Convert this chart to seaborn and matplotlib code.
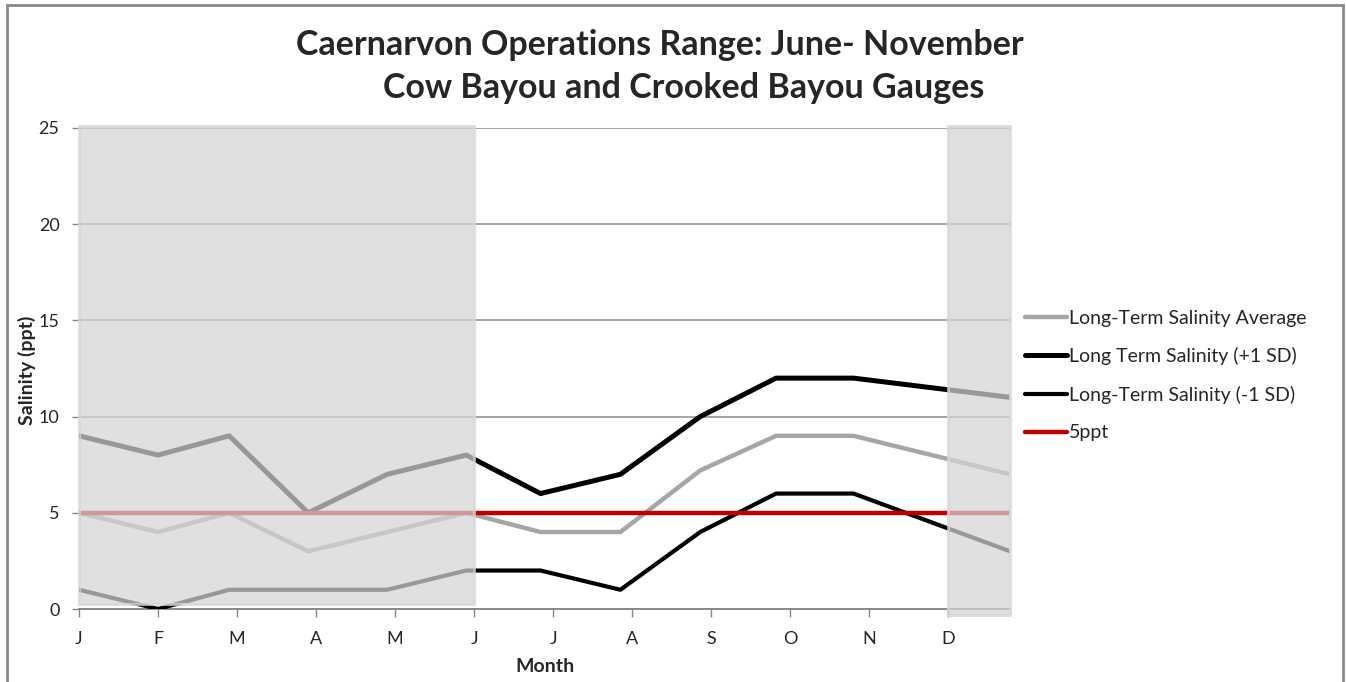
#-----------------------------------------------------------------------------#
'''Modules'''
import numpy as np
import pandas as pd
import matplotlib
matplotlib.use("Agg")
import matplotlib.pyplot as plt
from matplotlib.patches import Rectangle
import seaborn as sns
#-----------------------------------------------------------------------------#
'''Data read off the chart'''
month_labels = ["J", "F", "M", "A", "M", "J", "J", "A", "S", "O", "N", "D"]
# position of each data point, in months from January
month_pos = [0, 1, 1.9, 2.9, 3.9, 4.9, 5.84, 6.85, 7.86, 8.82, 9.8, 11.78]
sal_avg = [5, 4, 5, 3, 4, 5, 4, 4, 7.2, 9, 9, 7]
sal_plus = [9, 8, 9, 5, 7, 8, 6, 7, 10, 12, 12, 11]
sal_minus = [1, 0, 1, 1, 1, 2, 2, 1, 4, 6, 6, 3]
five_ppt = [5, 5, 5, 5, 5, 5, 5, 5, 5, 5, 5, 5]
y_ticks = [0, 5, 10, 15, 20, 25]
# months outside the operations range (shaded)
off_ranges = [(0, 5), (11, 11.78)]
#-----------------------------------------------------------------------------#
sns.set_style("white")
Font = ["Lato", "DejaVu Sans"]
plt.rcParams["font.family"] = Font

fig = plt.figure(figsize=(13.46, 6.82), dpi=100)
ax = fig.add_axes([79 / 1346, 1 - 609 / 682, (1010 - 79) / 1346, (609 - 128) / 682])

df = pd.DataFrame({"month": month_pos, "avg": sal_avg, "plus": sal_plus,
                   "minus": sal_minus, "ppt": five_ppt})

sns.lineplot(data=df, x="month", y="avg", color="#a6a6a6", lw=3.2,
             label="Long-Term Salinity Average", ax=ax, zorder=3)
sns.lineplot(data=df, x="month", y="plus", color="black", lw=3.6,
             label="Long Term Salinity (+1 SD)", ax=ax, zorder=3)
sns.lineplot(data=df, x="month", y="minus", color="black", lw=3.0,
             label="Long-Term Salinity (-1 SD)", ax=ax, zorder=3)
sns.lineplot(data=df, x="month", y="ppt", color="#c00000", lw=3.2,
             label="5ppt", ax=ax, zorder=4)

# shaded months = translucent grey on top of the lines
for i, (a, b) in enumerate(off_ranges):
    y0 = 0.25 if i == 0 else -0.3
    ax.add_patch(Rectangle((a, y0), b - a, 25.1 - y0, facecolor=(0.83, 0.83, 0.83, 0.72),
                           edgecolor=(0.84, 0.84, 0.84, 0.75), lw=2.2, zorder=6, clip_on=False))

ax.set_xlim(0, 11.78)
ax.set_ylim(0, 25)
ax.set_xticks(range(12))
ax.set_xticklabels(month_labels)
ax.set_yticks(y_ticks)
ax.yaxis.grid(True, color="#8c8c8c", lw=1.1, zorder=1)
ax.set_axisbelow(True)

for s in ["top", "right", "left"]:
    ax.spines[s].set_visible(False)
ax.spines["bottom"].set_color("#868686")
ax.spines["bottom"].set_linewidth(1.3)
ax.spines["bottom"].set_zorder(2)

ax.tick_params(axis="x", direction="out", length=6, width=1, color="#868686",
               labelsize=13, pad=10, bottom=True)
ax.tick_params(axis="y", direction="out", length=5, width=1, color="#868686",
               labelsize=13, pad=9, left=True)

ax.set_xlabel("Month", fontsize=14, fontweight="bold")
ax.xaxis.set_label_coords(0.5005, -0.102)
ax.set_ylabel("Salinity (ppt)", fontsize=14, fontweight="bold")
ax.yaxis.set_label_coords(-0.046, 0.497)

ax.legend_.remove()
h, l = ax.get_legend_handles_labels()
fig.legend(h, l, loc="upper left", bbox_to_anchor=(1007 / 1346, 1 - 292 / 682),
           frameon=False, fontsize=14, handlelength=2.2, handletextpad=0.1,
           labelspacing=1.06)

fig.text(660 / 1346, 1 - 45 / 682, "Caernarvon Operations Range: June- November",
         ha="center", va="center", fontsize=24.5, fontweight="bold")
fig.text(684 / 1346, 1 - 88 / 682, "Cow Bayou and Crooked Bayou Gauges",
         ha="center", va="center", fontsize=24.5, fontweight="bold")

# outer chart frame
fig.patches.append(Rectangle((7 / 1346, -0.1), (1343 - 7) / 1346, 1 - 5 / 682 + 0.1,
                             transform=fig.transFigure, fill=False,
                             edgecolor="#8a8a8a", lw=2))

plt.savefig("out.png", dpi=100)
